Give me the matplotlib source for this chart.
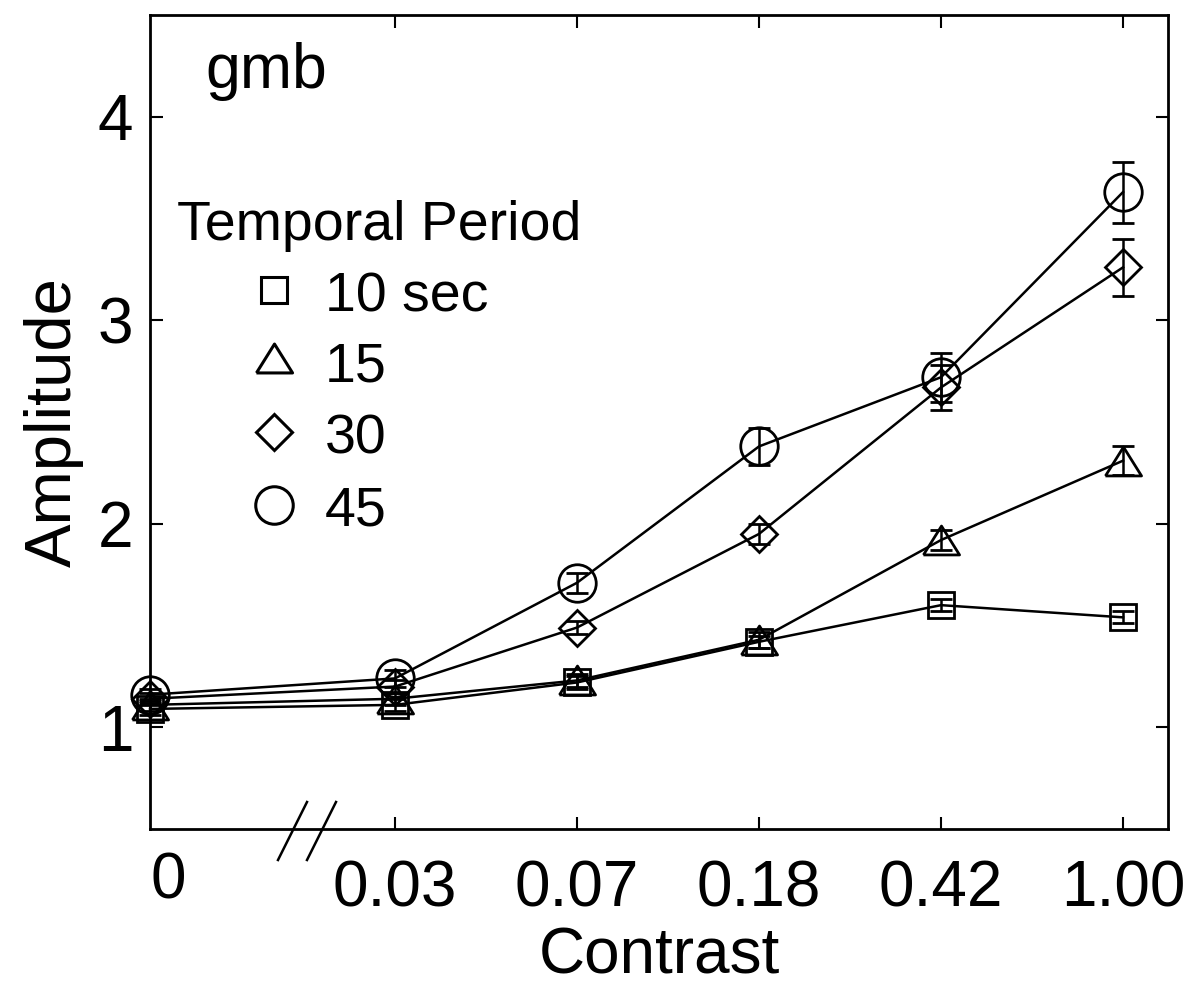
import numpy as np
import matplotlib
matplotlib.use("Agg")
from matplotlib import pyplot as plt
from matplotlib.lines import Line2D

plt.rcParams['font.family'] = ['Liberation Sans', 'DejaVu Sans']

# contrast levels (x tick labels) and temporal periods
contrast_labels = ['0', '0.03', '0.07', '0.18', '0.42', '1.00']
periods = ['10 sec', '15', '30', '45']

# amplitude per period, one value per contrast level
amp_10 = [1.09, 1.11, 1.22, 1.42, 1.60, 1.54]
amp_15 = [1.11, 1.14, 1.23, 1.43, 1.92, 2.31]
amp_30 = [1.14, 1.20, 1.49, 1.95, 2.67, 3.26]
amp_45 = [1.16, 1.24, 1.71, 2.38, 2.72, 3.63]

# standard errors
err_10 = [0.03, 0.03, 0.03, 0.03, 0.03, 0.03]
err_15 = [0.03, 0.03, 0.03, 0.04, 0.05, 0.07]
err_30 = [0.03, 0.03, 0.03, 0.05, 0.11, 0.14]
err_45 = [0.03, 0.04, 0.05, 0.09, 0.12, 0.15]

W, H = 1192, 991

# the zero-contrast point sits on the left edge, then equal spacing
x_zero = -1.346
xpos = np.array([x_zero, 0, 1, 2, 3, 4], dtype=float)

tri = [(-1.0, -0.8), (1.0, -0.8), (0.0, 0.8), (-1.0, -0.8)]
styles = [('s', 19), (tri, 26), ('D', 18), ('o', 27)]

fig = plt.figure(figsize=(W / 100, H / 100), dpi=100)
ax = fig.add_axes([150 / W, (H - 829) / H, 1018 / W, 814 / H])

series = [(amp_10, err_10), (amp_15, err_15), (amp_30, err_30), (amp_45, err_45)]
for (vals, errs), (mk, ms) in zip(series, styles):
    ax.errorbar(xpos, vals, yerr=errs, color='black', lw=1.8,
                marker=mk, ms=ms, mfc='none', mec='black', mew=2.0,
                capsize=8, capthick=1.8, elinewidth=1.8, clip_on=False, zorder=3)

ax.set_xlim(x_zero, 4.247)
ax.set_ylim(0.5, 4.5)
ax.set_xticks(xpos[1:])
ax.set_xticklabels(contrast_labels[1:])
ax.set_yticks([1, 2, 3, 4])
ax.tick_params(direction='in', length=9, width=1.5, top=True, right=True,
               labelsize=46)
ax.tick_params(axis='x', pad=22)
ax.tick_params(axis='y', pad=12)
for sp in ax.spines.values():
    sp.set_linewidth(2)

# label for zero contrast, slightly right of the axis edge
ax.text(x_zero + 0.10, -0.028, contrast_labels[0], transform=ax.get_xaxis_transform(),
        ha='center', va='top', fontsize=46)

ax.set_xlabel('Contrast', fontsize=46, labelpad=5)
ax.set_ylabel('Amplitude', fontsize=47, labelpad=10)

# axis break marks
for x0 in (278, 307):
    ax.add_line(Line2D([x0 / W, (x0 + 29) / W], [1 - 860 / H, 1 - 802 / H],
                       transform=fig.transFigure, color='black', lw=1.8,
                       clip_on=False))

fig.text(205 / W, 1 - 88 / H, 'gmb', fontsize=45, va='baseline', ha='left')

# legend
fig.text(177 / W, 1 - 240 / H, 'Temporal Period', fontsize=40, va='baseline', ha='left')
leg_y = [290, 358, 432, 505]
leg_base = [312, 381, 453, 525]
leg_ms = [19, 26, 18, 27]
for (mk, _), ms, yy, yb, lab in zip(styles, leg_ms, leg_y, leg_base, periods):
    fig.add_artist(Line2D([274 / W], [1 - yy / H], marker=mk, ms=ms, mfc='none',
                          mec='black', mew=2.2, ls='none', transform=fig.transFigure))
    fig.text(325 / W, 1 - yb / H, lab, fontsize=40, va='baseline', ha='left')

fig.savefig('out.png', dpi=100)
